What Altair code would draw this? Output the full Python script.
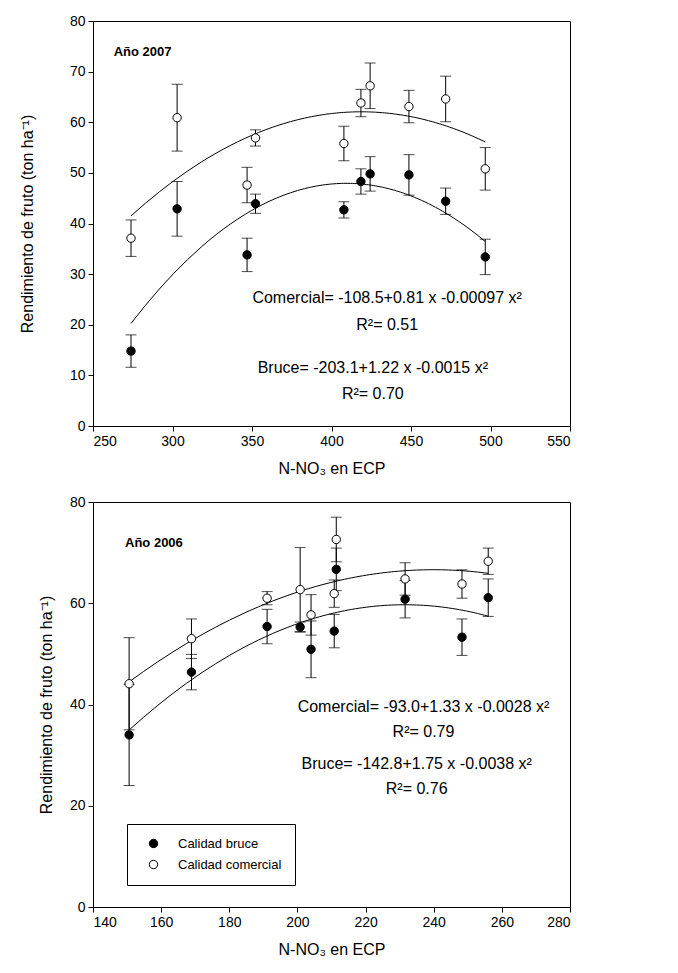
import altair as alt
import pandas as pd

FONT = "Liberation Sans"

# ---------------- Año 2007 ----------------
x07 = [273.9, 302.9, 346.9, 352.2, 407.8, 418.5, 424.3, 448.7, 471.8, 496.7]
com07 = [37.1, 60.9, 47.6, 56.9, 55.8, 63.8, 67.2, 63.1, 64.6, 50.8]
com07_err = [3.6, 6.6, 3.5, 1.6, 3.4, 2.7, 4.5, 3.2, 4.5, 4.2]
bru07 = [14.8, 42.9, 33.8, 43.9, 42.7, 48.3, 49.8, 49.6, 44.4, 33.4]
bru07_err = [3.2, 5.4, 3.3, 1.9, 1.6, 2.5, 3.4, 4.0, 2.6, 3.5]

# ---------------- Año 2006 ----------------
x06 = [150.6, 168.9, 191.1, 200.8, 204.0, 210.8, 211.4, 231.6, 248.3, 256.0]
com06 = [44.1, 53.0, 61.0, 62.7, 57.7, 61.9, 72.6, 64.8, 63.8, 68.3]
com06_err = [9.1, 3.9, 1.3, 8.3, 4.0, 2.7, 4.4, 3.2, 2.8, 2.6]
bru06 = [34.0, 46.4, 55.4, 55.3, 50.9, 54.5, 66.7, 60.8, 53.3, 61.1]
bru06_err = [10.0, 3.5, 3.4, 1.0, 5.6, 3.3, 4.2, 3.7, 3.6, 3.7]

series = ["Calidad bruce", "Calidad comercial"]

# annotations
eq07_text = ["Comercial= -108.5+0.81 x -0.00097 x²", "R²= 0.51",
             "Bruce= -203.1+1.22 x -0.0015 x²", "R²= 0.70"]
eq07_x = [435, 435, 426, 426]
eq07_y = [25.2, 20.0, 11.5, 6.4]
eq06_text = ["Comercial= -93.0+1.33 x -0.0028 x²", "R²= 0.79",
             "Bruce= -142.8+1.75 x -0.0038 x²", "R²= 0.76"]
eq06_x = [237, 237, 235, 235]
eq06_y = [39.5, 34.5, 28.3, 23.3]

x07_ticks = [250, 300, 350, 400, 450, 500, 550]
y07_ticks = [0, 10, 20, 30, 40, 50, 60, 70, 80]
x06_ticks = [140, 160, 180, 200, 220, 240, 260, 280]
y06_ticks = [0, 20, 40, 60, 80]


def make_df(x, com, com_err, bru, bru_err):
    rows = []
    for xi, yi, ei in zip(x, bru, bru_err):
        rows.append({"x": xi, "y": yi, "err": ei, "serie": series[0]})
    for xi, yi, ei in zip(x, com, com_err):
        rows.append({"x": xi, "y": yi, "err": ei, "serie": series[1]})
    return pd.DataFrame(rows)


def panel(df, xdom, xticks, ydom, yticks, eq_text, eq_x, eq_y,
          year_text, year_x, year_y, ytitle_pad, show_legend):
    W, H = 477, 405
    xenc = alt.X("x:Q", scale=alt.Scale(domain=xdom, nice=False, zero=False),
                 axis=alt.Axis(values=xticks, title="N-NO₃ en ECP", titlePadding=12))
    yenc = alt.Y("y:Q", scale=alt.Scale(domain=ydom, nice=False, zero=False),
                 axis=alt.Axis(values=yticks, title="Rendimiento de fruto (ton ha⁻¹)",
                               titlePadding=ytitle_pad))
    base = alt.Chart(df)

    fit = base.transform_regression(
        "x", "y", method="poly", order=2, groupby=["serie"]
    ).mark_line(color="black", strokeWidth=1).encode(x=xenc, y=yenc, detail="serie:N")

    err = base.transform_calculate(
        lo="datum.y - datum.err", hi="datum.y + datum.err"
    )
    rules = err.mark_rule(color="black", strokeWidth=1).encode(
        x=xenc, y=alt.Y("lo:Q"), y2="hi:Q")
    cap_lo = err.mark_tick(color="black", orient="horizontal", size=11, thickness=1).encode(
        x=xenc, y=alt.Y("lo:Q"))
    cap_hi = err.mark_tick(color="black", orient="horizontal", size=11, thickness=1).encode(
        x=xenc, y=alt.Y("hi:Q"))

    if show_legend:
        leg = alt.Legend(title=None, orient="none", legendX=34, legendY=322,
                         strokeColor="black", fillColor="white", padding=13,
                         symbolOffset=7, labelOffset=18, rowPadding=7,
                         symbolType="circle", symbolSize=70,
                         symbolStrokeColor="black", symbolStrokeWidth=1,
                         labelFont=FONT, labelFontSize=13, labelColor="black")
    else:
        leg = None
    pts = base.mark_circle(size=70, stroke="black", strokeWidth=1, opacity=1).encode(
        x=xenc, y=yenc,
        fill=alt.Fill("serie:N", scale=alt.Scale(domain=series, range=["black", "white"]),
                      legend=leg),
        order=alt.Order("serie:N", sort="ascending"),
    )

    eq_df = pd.DataFrame({"x": eq_x, "y": eq_y, "t": eq_text})
    eqs = alt.Chart(eq_df).mark_text(font=FONT, fontSize=16, align="center",
                                     baseline="middle", color="black").encode(
        x=xenc, y=yenc, text="t:N")

    yr_df = pd.DataFrame({"x": [year_x], "y": [year_y], "t": [year_text]})
    yr = alt.Chart(yr_df).mark_text(font=FONT, fontSize=13, fontWeight="bold",
                                    align="left", baseline="middle", color="black").encode(
        x=xenc, y=yenc, text="t:N")

    return alt.layer(fit, rules, cap_lo, cap_hi, pts, eqs, yr).properties(width=W, height=H)


top = panel(make_df(x07, com07, com07_err, bru07, bru07_err),
            [250, 550], x07_ticks, [0, 80], y07_ticks,
            eq07_text, eq07_x, eq07_y, "Año 2007", 263, 73.9, 34, False)
bottom = panel(make_df(x06, com06, com06_err, bru06, bru06_err),
               [140, 280], x06_ticks, [0, 80], y06_ticks,
               eq06_text, eq06_x, eq06_y, "Año 2006", 149.4, 71.9, 15, True)

chart = alt.vconcat(top, bottom, spacing=76, bounds="flush").resolve_scale(
    x="independent", y="independent", fill="independent"
).configure_view(
    stroke="black", strokeWidth=1
).configure_axis(
    grid=False, domainColor="black", tickColor="black", labelColor="black",
    titleColor="black", labelFont=FONT, titleFont=FONT, labelFontSize=14,
    titleFontSize=16, titleFontWeight="normal", tickSize=5, labelPadding=3,
).configure_text(font=FONT).properties(
    padding={"left": 10, "top": 5, "right": 5, "bottom": 5},
    background="white",
)

chart.save("out.html", embed_options={"renderer": "svg", "actions": False})
